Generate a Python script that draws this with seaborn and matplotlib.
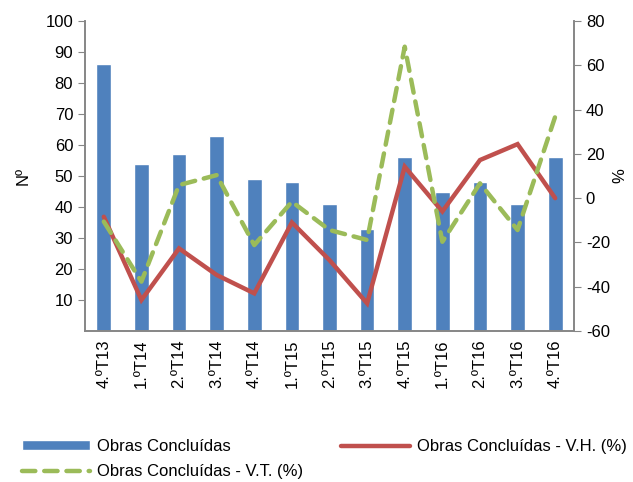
import numpy as np
import matplotlib
matplotlib.use("Agg")
import matplotlib.pyplot as plt
import seaborn as sns
import pandas as pd

trimestres = ["4.ºT13", "1.ºT14", "2.ºT14", "3.ºT14", "4.ºT14", "1.ºT15", "2.ºT15",
              "3.ºT15", "4.ºT15", "1.ºT16", "2.ºT16", "3.ºT16", "4.ºT16"]
obras = [86, 54, 57, 63, 49, 48, 41, 33, 56, 45, 48, 41, 56]
var_homologa = [-8.4, -46, -22.7, -34.7, -43, -11, -28, -47.5, 14.2, -6, 17.2, 24.4, 0]
var_trimestral = [-10.6, -37.7, 5.9, 10.4, -21.2, -1.6, -14.4, -18.9, 68.4, -19.7, 6.7, -14.4, 36.8]

sns.set_style("white")
plt.rcParams["font.family"] = ["Liberation Sans", "DejaVu Sans"]
plt.rcParams["font.size"] = 12
plt.rcParams["axes.unicode_minus"] = False
plt.rcParams["text.color"] = "black"
plt.rcParams["axes.labelcolor"] = "black"

azul = "#4F81BD"
vermelho = "#C0504D"
verde = "#9BBB59"
cinza = "#868686"

df = pd.DataFrame({"t": trimestres, "obras": obras})
pos = np.arange(len(trimestres))

fig = plt.figure(figsize=(6.33, 4.82), dpi=100)
ax = fig.add_axes([85 / 633, 1 - 331 / 482, (574 - 85) / 633, (331 - 21) / 482])

sns.barplot(data=df, x="t", y="obras", color=azul, width=0.39, saturation=1,
            ax=ax, label="Obras Concluídas")
ax.set_ylim(0, 100)
ax.set_xlim(-0.5, len(trimestres) - 0.5)
ax.set_yticks(range(10, 101, 10))
ax.set_ylabel("Nº", labelpad=11)
ax.set_xlabel("")
ax.set_xticks(pos)
ax.set_xticklabels(trimestres, rotation=90)
ax.set_xticks(np.arange(-0.5, len(trimestres), 1), minor=True)
ax.tick_params(axis="x", which="major", length=0, pad=6, labelcolor="black")
ax.tick_params(axis="x", which="minor", length=5, color=cinza, direction="out")
ax.tick_params(axis="y", length=5, color=cinza, direction="out", left=True,
               labelcolor="black")

ax2 = ax.twinx()
sns.lineplot(x=pos, y=var_homologa, color=vermelho, linewidth=3.2, ax=ax2,
             label="Obras Concluídas - V.H. (%)", solid_capstyle="round",
             solid_joinstyle="miter")
sns.lineplot(x=pos, y=var_trimestral, color=verde, linewidth=3.2, ax=ax2,
             label="Obras Concluídas - V.T. (%)", dashes=False)
ax2.lines[-1].set_dashes((3.0, 2.0))
ax2.lines[-1].set_dash_capstyle("round")
ax2.set_ylim(-60, 80)
ax2.set_yticks(range(-60, 81, 20))
ax2.set_ylabel("%", labelpad=2)
ax2.tick_params(axis="y", length=5, color=cinza, direction="out", right=True,
                labelcolor="black")

for a in (ax, ax2):
    a.spines["top"].set_visible(False)
    for s in ("left", "right", "bottom"):
        a.spines[s].set_color(cinza)
        a.spines[s].set_linewidth(1.2)
ax2.get_legend().remove()

h1, l1 = ax.get_legend_handles_labels()
h2, l2 = ax2.get_legend_handles_labels()
fig.legend([h1[0], h2[1], h2[0]], [l1[0], l2[1], l2[0]], ncol=2,
           loc="upper left", bbox_to_anchor=(0.0237, 0.103), frameon=False,
           handlelength=4.1, handleheight=0.5, handletextpad=0.42,
           columnspacing=2.3, labelspacing=0.6, borderaxespad=0)
if ax.get_legend() is not None:
    ax.get_legend().remove()

fig.savefig("out.png", dpi=100)
